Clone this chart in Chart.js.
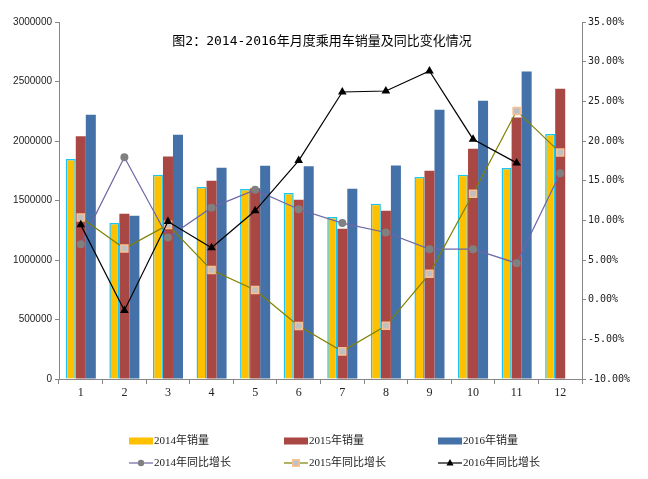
<!DOCTYPE html>
<html>
<head>
<meta charset="utf-8">
<script src="https://cdn.jsdelivr.net/npm/chart.js@4.4.1/dist/chart.umd.min.js"></script>
<style>
  html, body { margin: 0; padding: 0; background: #fff; }
  #wrap { width: 648px; height: 479px; position: relative; }
</style>
</head>
<body>
<div id="wrap"><canvas id="sales-chart" width="648" height="479"></canvas></div>
<script>
const months = ["1", "2", "3", "4", "5", "6", "7", "8", "9", "10", "11", "12"];

// 月度销量（辆）
const sales2014 = [1848000, 1311000, 1717000, 1613000, 1597000, 1563000, 1361000, 1473000, 1697000, 1717000, 1773000, 2059000];
const sales2015 = [2039000, 1389000, 1870000, 1666000, 1603000, 1507000, 1263000, 1414000, 1750000, 1935000, 2198000, 2440000];
const sales2016 = [2221000, 1372000, 2053000, 1776000, 1792000, 1787000, 1599000, 1795000, 2263000, 2339000, 2585000, null];

// 同比增长（%）
const growth2014 = [7.0, 17.96, 7.84, 11.6, 13.84, 11.4, 9.65, 8.47, 6.37, 6.37, 4.6, 15.94];
const growth2015 = [10.36, 6.45, 9.43, 3.73, 1.21, -3.33, -6.52, -3.29, 3.26, 13.34, 23.79, 18.54];
const growth2016 = [9.43, -1.36, 9.85, 6.54, 11.2, 17.53, 26.18, 26.3, 28.83, 20.23, 17.24, null];

const leftTicks = [0, 500000, 1000000, 1500000, 2000000, 2500000, 3000000];
const rightTicks = [-10, -5, 0, 5, 10, 15, 20, 25, 30, 35];

const chartTitle = "图2：2014-2016年月度乘用车销量及同比变化情况";

const axisColor = "#868686";
const textColor = "#222";
const cjkSerif = "'Liberation Serif', 'Noto Sans CJK SC', serif";

const titlePlugin = {
  id: "insideTitle",
  afterDraw(chart) {
    const { ctx } = chart;
    ctx.save();
    ctx.fillStyle = "#000";
    ctx.font = "13px 'DejaVu Sans Mono', 'Noto Sans CJK SC', monospace";
    ctx.textAlign = "center";
    ctx.textBaseline = "middle";
    ctx.fillText(chartTitle, 322, 42);
    ctx.restore();
  },
};

function drawMarker(ctx, style, x, y, r) {
  if (style === "rect") {
    ctx.rect(x - r * 0.8, y - r * 0.8, r * 1.6, r * 1.6);
  } else if (style === "triangle") {
    ctx.moveTo(x, y - r);
    ctx.lineTo(x + r * 0.9, y + r * 0.6);
    ctx.lineTo(x - r * 0.9, y + r * 0.6);
    ctx.closePath();
  } else {
    ctx.arc(x, y, r, 0, Math.PI * 2);
  }
}

// Excel-like legend in a fixed 3-column grid
const legendPlugin = {
  id: "gridLegend",
  afterDraw(chart) {
    const { ctx } = chart;
    const colX = [129, 284, 438];
    const rowY = [441, 463];
    ctx.save();
    ctx.font = "11px " + cjkSerif;
    ctx.textBaseline = "middle";

    chart.data.datasets.forEach((ds, i) => {
      const x = colX[i % 3];
      const y = rowY[Math.floor(i / 3)];
      if (ds.type === "bar") {
        ctx.fillStyle = ds.backgroundColor;
        ctx.fillRect(x, y - 3.5, 24, 7);
      } else {
        ctx.strokeStyle = ds.borderColor;
        ctx.lineWidth = 1.2;
        ctx.beginPath();
        ctx.moveTo(x, y);
        ctx.lineTo(x + 24, y);
        ctx.stroke();
        ctx.fillStyle = ds.pointBackgroundColor;
        ctx.strokeStyle = ds.pointBorderColor;
        ctx.lineWidth = ds.pointBorderWidth;
        ctx.beginPath();
        drawMarker(ctx, ds.pointStyle, x + 12, y, ds.pointRadius * 0.8);
        ctx.fill();
        if (ds.pointBorderWidth) ctx.stroke();
      }
      ctx.fillStyle = textColor;
      ctx.fillText(ds.label, x + 25, y + 0.5);
    });
    ctx.restore();
  },
};

function barSet(label, data, color, extra) {
  return Object.assign({
    type: "bar",
    label,
    data,
    yAxisID: "y",
    backgroundColor: color,
    borderWidth: 0,
    categoryPercentage: 0.69,
    barPercentage: 1.0,
    order: 10,
  }, extra || {});
}

new Chart(document.getElementById("sales-chart"), {
  data: {
    labels: months,
    datasets: [
      barSet("2014年销量", sales2014, "#FFC000", { borderColor: "#1CC6F2", borderWidth: 1.5 }),
      barSet("2015年销量", sales2015, "#A94744"),
      barSet("2016年销量", sales2016, "#4472A8"),
      {
        type: "line",
        label: "2014年同比增长",
        data: growth2014,
        yAxisID: "y1",
        borderColor: "#6B66A8",
        borderWidth: 1.2,
        pointStyle: "circle",
        pointRadius: 4,
        pointBackgroundColor: "#808080",
        pointBorderColor: "#808080",
        pointBorderWidth: 0,
        tension: 0,
        order: 3,
      },
      {
        type: "line",
        label: "2015年同比增长",
        data: growth2015,
        yAxisID: "y1",
        borderColor: "#808000",
        borderWidth: 1.2,
        pointStyle: "rect",
        pointRadius: 5,
        pointBackgroundColor: "#C0C0C0",
        pointBorderColor: "#FAC090",
        pointBorderWidth: 1.5,
        tension: 0,
        order: 2,
      },
      {
        type: "line",
        label: "2016年同比增长",
        data: growth2016,
        yAxisID: "y1",
        borderColor: "#000000",
        borderWidth: 1.2,
        pointStyle: "triangle",
        pointRadius: 5,
        pointBackgroundColor: "#000000",
        pointBorderColor: "#000000",
        pointBorderWidth: 0,
        tension: 0,
        order: 1,
      },
    ],
  },
  options: {
    responsive: false,
    animation: false,
    devicePixelRatio: 1,
    layout: { padding: { top: 22, left: 0, right: 0, bottom: 0 } },
    plugins: {
      legend: { display: false },
      title: { display: false },
      tooltip: { enabled: false },
    },
    scales: {
      x: {
        type: "category",
        offset: true,
        grid: { offset: true, drawOnChartArea: false, color: axisColor, tickLength: 5 },
        border: { color: axisColor, width: 1 },
        ticks: { color: textColor, font: { size: 12, family: cjkSerif }, padding: 2, maxRotation: 0, autoSkip: false },
        afterFit(scale) { scale.height = 100; },
      },
      y: {
        position: "left",
        min: leftTicks[0],
        max: leftTicks[leftTicks.length - 1],
        afterBuildTicks(scale) { scale.ticks = leftTicks.map((v) => ({ value: v })); },
        grid: { drawOnChartArea: false, color: axisColor, tickLength: 4 },
        border: { color: axisColor, width: 1 },
        ticks: {
          color: textColor,
          font: { size: 10, family: "'Liberation Sans', Arial, sans-serif" },
          padding: 3,
          callback: (v) => String(v),
        },
        afterFit(scale) { scale.width = 59; },
      },
      y1: {
        position: "right",
        min: rightTicks[0],
        max: rightTicks[rightTicks.length - 1],
        afterBuildTicks(scale) { scale.ticks = rightTicks.map((v) => ({ value: v })); },
        grid: { drawOnChartArea: false, color: axisColor, tickLength: 4 },
        border: { color: axisColor, width: 1 },
        ticks: {
          color: textColor,
          font: { size: 10, family: "'DejaVu Sans Mono', monospace" },
          padding: 2,
          callback: (v) => Number(v).toFixed(2) + "%",
        },
        afterFit(scale) { scale.width = 66; },
      },
    },
  },
  plugins: [titlePlugin, legendPlugin],
});
</script>
</body>
</html>
